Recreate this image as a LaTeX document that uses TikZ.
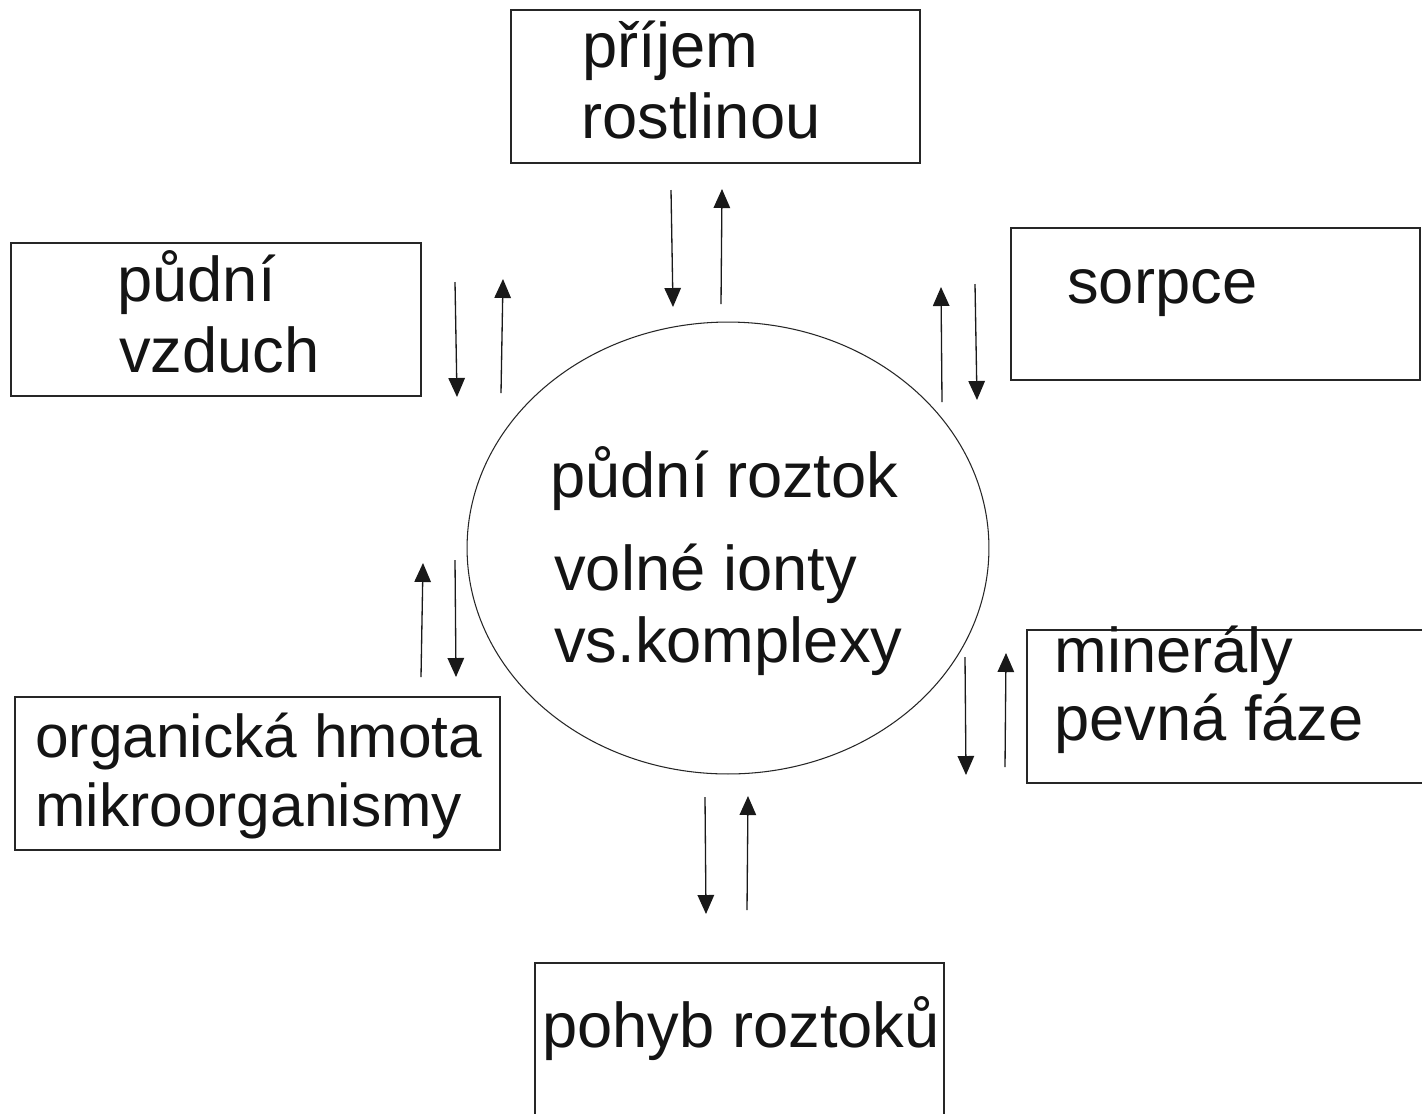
\documentclass[tikz,border=0pt]{standalone}
\usepackage{fontspec}
\setmainfont{Liberation Sans}
\usetikzlibrary{arrows.meta,fit,shapes.geometric}

\tikzset{
  box/.style={draw=black!85, line width=0.6pt, inner sep=0pt, rectangle},
  lbl/.style={anchor=base west, inner sep=0pt, font=\fontsize{36}{43}\selectfont, text=black!92},
  smalllbl/.style={lbl, font=\fontsize{34.4}{41}\selectfont},
  flow/.style={draw=black!90, line width=0.75pt, -{Triangle[length=0.38cm, width=0.33cm]}},
  blob/.style={draw=black!85, line width=0.6pt, ellipse, inner sep=0pt,
               minimum width=10.44cm, minimum height=9.04cm}
}

\begin{document}
\begin{tikzpicture}[x=0.02cm, y=-0.02cm]
  \clip (0,0) rectangle (1422,1113);
  \fill[white] (0,0) rectangle (1422,1113);

  % central soil solution
  \node[blob] (sol) at (728,548) {};
  \node[lbl] (sol1) at (550,497) {půdní roztok};
  \node[lbl] (sol2) at (554,590) {volné ionty};
  \node[lbl] (sol3) at (554,662) {vs.komplexy};

  % surrounding compartments
  \node[box, fit={(511,10) (920,163)}] (plant) {};
  \node[lbl] (plant1) at (582,67) {příjem};
  \node[lbl] (plant2) at (581,138) {rostlinou};

  \node[box, fit={(11,243) (421,396)}] (air) {};
  \node[lbl] (air1) at (117,301) {půdní};
  \node[lbl] (air2) at (119,372) {vzduch};

  \node[box, fit={(1011,228) (1420,380)}] (sorp) {};
  \node[lbl] (sorp1) at (1067,303) {sorpce};

  \node[box, fit={(15,697) (500,850)}] (org) {};
  \node[smalllbl] (org1) at (35,757) {organická hmota};
  \node[smalllbl] (org2) at (35,826) {mikroorganismy};

  \node[box, fit={(1027,630) (1430,783)}] (min) {};
  \node[lbl] (min1) at (1054,672) {minerály};
  \node[lbl] (min2) at (1054,740) {pevná fáze};

  \node[box, fit={(535,963) (944,1120)}] (move) {};
  \node[lbl] (move1) at (542,1047) {pohyb roztoků};

  % arrow end points
  \coordinate (pA1) at (671,190); \coordinate (pA2) at (673,307);
  \coordinate (pB1) at (721,304); \coordinate (pB2) at (722,189);
  \coordinate (aA1) at (455,282); \coordinate (aA2) at (457,397);
  \coordinate (aB1) at (501,393); \coordinate (aB2) at (503,279);
  \coordinate (sA1) at (942,402); \coordinate (sA2) at (941,287);
  \coordinate (sB1) at (975,284); \coordinate (sB2) at (977,400);
  \coordinate (oA1) at (421,677); \coordinate (oA2) at (423,563);
  \coordinate (oB1) at (455,560); \coordinate (oB2) at (456,677);
  \coordinate (mA1) at (965,657); \coordinate (mA2) at (966,775);
  \coordinate (mB1) at (1005,767); \coordinate (mB2) at (1006,653);
  \coordinate (vA1) at (705,797); \coordinate (vA2) at (706,914);
  \coordinate (vB1) at (747,910); \coordinate (vB2) at (748,796);

  % exchange arrows
  \draw[flow] (pA1) -- (pA2);
  \draw[flow] (pB1) -- (pB2);
  \draw[flow] (aA1) -- (aA2);
  \draw[flow] (aB1) -- (aB2);
  \draw[flow] (sA1) -- (sA2);
  \draw[flow] (sB1) -- (sB2);
  \draw[flow] (oA1) -- (oA2);
  \draw[flow] (oB1) -- (oB2);
  \draw[flow] (mA1) -- (mA2);
  \draw[flow] (mB1) -- (mB2);
  \draw[flow] (vA1) -- (vA2);
  \draw[flow] (vB1) -- (vB2);
\end{tikzpicture}
\end{document}
